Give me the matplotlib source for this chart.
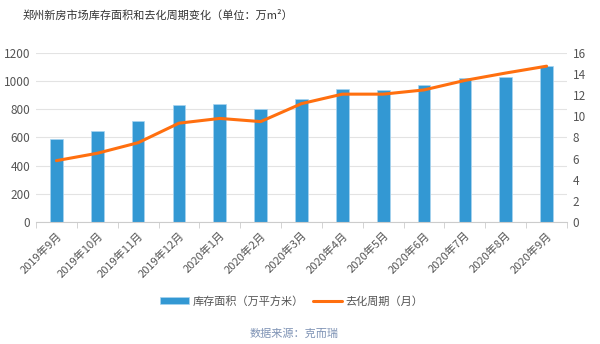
import numpy as np
import matplotlib
matplotlib.use("Agg")
from matplotlib import pyplot as plt

plt.rcParams['font.family'] = ['Noto Sans CJK SC', 'DejaVu Sans']

months = ['2019年9月', '2019年10月', '2019年11月', '2019年12月', '2020年1月', '2020年2月',
          '2020年3月', '2020年4月', '2020年5月', '2020年6月', '2020年7月', '2020年8月', '2020年9月']
stock = [589, 646, 715, 828, 835, 800, 876, 944, 939, 970, 1020, 1027, 1107]
cycle = [5.8, 6.5, 7.5, 9.35, 9.8, 9.5, 11.2, 12.1, 12.1, 12.5, 13.4, 14.1, 14.75]

bar_color = '#3398d3'
line_color = '#ff6f0f'
grid_color = '#e3e3e3'
text_color = '#555555'

fig = plt.figure(figsize=(6, 3.44), dpi=100)
ax = fig.add_axes([0.06, 0.355, 0.885, 0.491])
ax2 = ax.twinx()

x = np.arange(len(months))
bars = ax.bar(x, stock, width=0.31, color=bar_color, edgecolor='#a9d4f0', linewidth=0.5,
              label='库存面积（万平方米）', zorder=2)
line, = ax2.plot(x, cycle, color=line_color, linewidth=2.2, label='去化周期（月）',
                 solid_capstyle='round', zorder=3)

ax.set_xlim(-0.5, len(months) - 0.5)
ax.set_ylim(0, 1200)
ax.set_yticks(range(0, 1201, 200))
ax2.set_ylim(0, 16)
ax2.set_yticks(range(0, 17, 2))

ax.grid(axis='y', color=grid_color, linewidth=0.8, zorder=0)
ax.set_axisbelow(True)

for a in (ax, ax2):
    for s in ['top', 'left', 'right', 'bottom']:
        a.spines[s].set_visible(False)
ax.spines['bottom'].set_visible(True)
ax.spines['bottom'].set_color('#cccccc')

ax.tick_params(axis='y', length=0, labelsize=8.5, labelcolor=text_color, pad=4)
ax2.tick_params(axis='y', length=0, labelsize=8.5, labelcolor=text_color, pad=4)

ax.set_xticks(x)
ax.set_xticklabels(months, rotation=45, ha='right', va='top', rotation_mode='anchor',
                   fontsize=8, color=text_color)
ax.tick_params(axis='x', length=0, pad=6)
ax.set_xticks(np.arange(-0.5, len(months), 1), minor=True)
ax.tick_params(axis='x', which='minor', length=4, color='#cccccc')

fig.text(0.037, 0.955, '郑州新房市场库存面积和去化周期变化（单位：万m²）', fontsize=8,
         color='#333333', ha='left', va='center')

fig.legend(handles=[bars, line], loc='center', bbox_to_anchor=(0.486, 0.125), ncol=2,
           frameon=False, fontsize=8, handlelength=2.6, handleheight=0.6,
           columnspacing=0.8, handletextpad=0.3, labelcolor=text_color)

fig.text(0.49, 0.03, '数据来源：克而瑞', fontsize=8, color='#7f93b5', ha='center', va='center')

fig.savefig('out.png', dpi=100)
